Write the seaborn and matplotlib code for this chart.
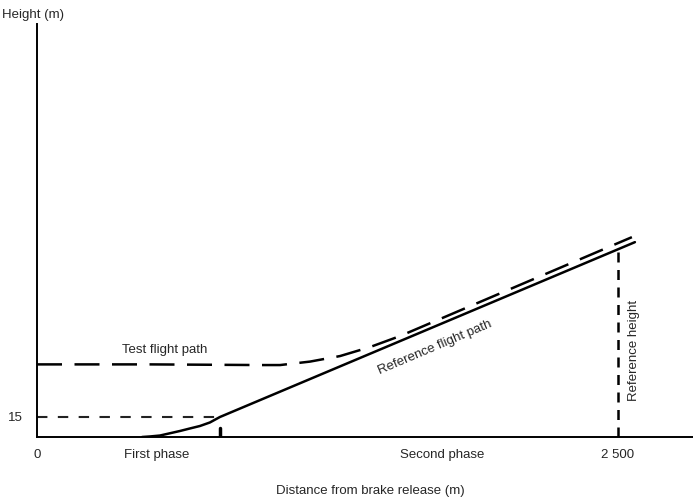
import numpy as np
import pandas as pd
import matplotlib
matplotlib.use("Agg")
import matplotlib.pyplot as plt
import seaborn as sns

# data (distance m, height m)
ref_x = [452, 486, 529, 615, 658, 701, 744, 787, 2573]
ref_y = [0, 0.4, 1.1, 4.5, 6.4, 8.25, 10.9, 15, 146.25]

test_x = [0, 486, 960, 1046, 1175, 1304, 1433, 1562, 2560]
test_y = [54.5, 54.5, 54.0, 54.0, 56.6, 60.75, 67.5, 75.75, 150]

screen_height = 15
first_phase_end = 787
ref_distance = 2500
ref_height = 141

sns.set_style("white")
plt.rcParams['font.family'] = ['Liberation Sans', 'DejaVu Sans']

fig = plt.figure(figsize=(6.93, 5.02), dpi=100)
ax = fig.add_axes([37/693, 64/502, 656/693, 413/502])

ref = pd.DataFrame({'x': ref_x, 'y': ref_y})
test = pd.DataFrame({'x': test_x, 'y': test_y})

sns.lineplot(data=ref, x='x', y='y', ax=ax, color='black', lw=1.8, sort=False)
sns.lineplot(data=test, x='x', y='y', ax=ax, color='black', lw=1.8, sort=False,
             dashes=False, linestyle=(0, (10, 5)))

# screen height line and phase marker
ax.plot([0, first_phase_end], [screen_height, screen_height], color='#222222',
        lw=1.5, linestyle=(0, (5, 5)))
ax.plot([first_phase_end, first_phase_end], [0, 6.5], color='black', lw=2.5)
ax.plot([ref_distance, ref_distance], [0, ref_height], color='black', lw=1.8,
        linestyle=(0, (4, 3)))

ax.set_xlim(0, 2823)
ax.set_ylim(0, 310)
ax.set_xticks([])
ax.set_yticks([])
ax.set_xlabel('')
ax.set_ylabel('')
for s in ['top', 'right']:
    ax.spines[s].set_visible(False)
for s in ['left', 'bottom']:
    ax.spines[s].set_color('black')
    ax.spines[s].set_linewidth(1.4)

fs = 9.5
ax.text(0, -8, '0', ha='center', va='top', fontsize=fs)
ax.text(ref_distance, -8, '2 500', ha='center', va='top', fontsize=fs)
ax.text(-60, screen_height, '15', ha='right', va='center', fontsize=fs)
ax.text(517, -8, 'First phase', ha='center', va='top', fontsize=fs)
ax.text(1743, -8, 'Second phase', ha='center', va='top', fontsize=fs)
ax.text(550, 66, 'Test flight path', ha='center', va='center', fontsize=fs)
ax.text(1712, 68, 'Reference flight path', ha='center', va='center',
        fontsize=fs, rotation=23, rotation_mode='anchor')
ax.text(2570, 66, 'Reference height', ha='center', va='center',
        fontsize=fs, rotation=90)
fig.text(370/693, 1 - 491/502, 'Distance from brake release (m)',
         ha='center', va='center', fontsize=fs)
fig.text(33/693, 1 - 15/502, 'Height (m)', ha='center', va='center', fontsize=fs)

fig.savefig('out.png', dpi=100)
